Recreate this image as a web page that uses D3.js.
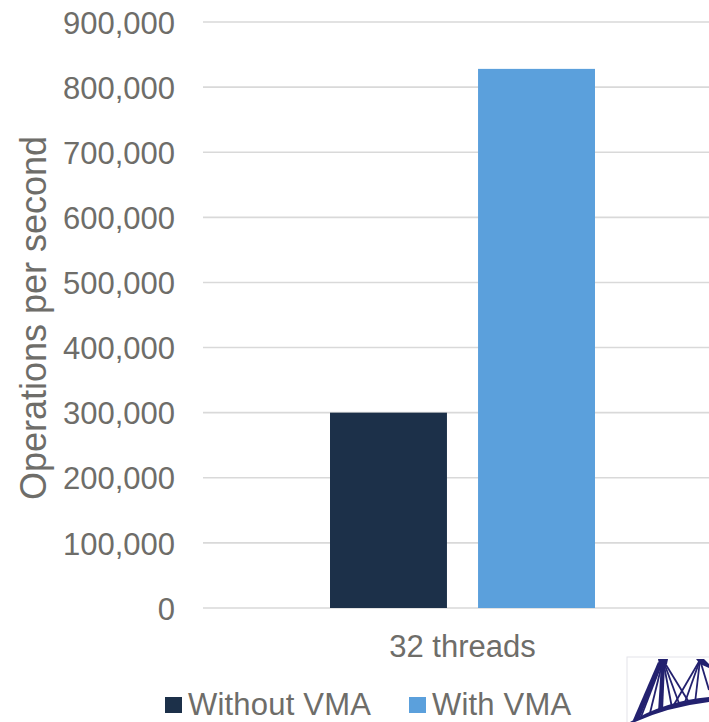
<!DOCTYPE html>
<html>
<head>
<meta charset="utf-8">
<script src="https://cdn.jsdelivr.net/npm/d3@7"></script>
<style>
html,body{margin:0;padding:0;background:#fff;overflow:hidden;}
svg{display:block;}
text{font-family:"Liberation Sans",Arial,sans-serif;fill:#6e6d69;}
</style>
</head>
<body>
<svg id="chart" width="709" height="722"></svg>
<script>
const categories = ["32 threads"];
const series = ["Without VMA", "With VMA"];
const withoutVMA = [300000];
const withVMA = [828000];
const colors = ["#1c3049", "#5ba0dc"];
const yTicks = [0, 100000, 200000, 300000, 400000, 500000, 600000, 700000, 800000, 900000];
const yTitle = "Operations per second";

const svg = d3.select("#chart");
const W = 709, H = 722;
const plotLeft = 203, plotRight = 722, plotTop = 22, plotBottom = 608;

const y = d3.scaleLinear().domain([0, 900000]).range([plotBottom, plotTop]);
const x0 = d3.scaleBand().domain(categories).range([plotLeft, plotRight]);
const x1 = d3.scaleBand().domain(series).range([127, 392]).paddingInner(0.21);
const color = d3.scaleOrdinal().domain(series).range(colors);
const fmt = d3.format(",");

// gridlines
svg.append("g").selectAll("line").data(yTicks).join("line")
  .attr("x1", plotLeft).attr("x2", W)
  .attr("y1", d => y(d)).attr("y2", d => y(d))
  .attr("stroke", "#d9d9d9").attr("stroke-width", 1.6);

// y axis labels
const yAxis = d3.axisLeft(y).tickValues(yTicks).tickFormat(fmt).tickSize(0).tickPadding(0);
const gy = svg.append("g").attr("transform", `translate(175,0)`).call(yAxis);
gy.select(".domain").remove();
gy.selectAll("text").style("font-size", "31px").attr("fill", "#6e6d69")
  .style("font-family", '"Liberation Sans",Arial,sans-serif').attr("dy", "0.36em");

// bars
const data = categories.map((c, i) => ({cat: c, vals: [
  {s: series[0], v: withoutVMA[i]}, {s: series[1], v: withVMA[i]}]}));
const cg = svg.append("g").selectAll("g").data(data).join("g")
  .attr("transform", d => `translate(${x0(d.cat)},0)`);
cg.selectAll("rect").data(d => d.vals).join("rect")
  .attr("x", d => x1(d.s)).attr("width", x1.bandwidth())
  .attr("y", d => y(d.v)).attr("height", d => y(0) - y(d.v))
  .attr("fill", d => color(d.s));

// x axis label
const xAxis = d3.axisBottom(x0).tickSize(0).tickPadding(0);
const gx = svg.append("g").attr("transform", `translate(0,${plotBottom})`).call(xAxis);
gx.select(".domain").remove();
gx.selectAll("text").style("font-size", "31px").attr("fill", "#6e6d69")
  .style("font-family", '"Liberation Sans",Arial,sans-serif')
  .attr("dy", 0).attr("y", 49);

// y title
svg.append("text").attr("transform", "translate(46,318) rotate(-90)")
  .attr("text-anchor", "middle").style("font-size", "36px").text(yTitle);

// legend
const legX = [165, 409];
const lg = svg.append("g").selectAll("g").data(series).join("g")
  .attr("transform", (d, i) => `translate(${legX[i]},0)`);
lg.append("rect").attr("x", 0).attr("y", 697).attr("width", 17).attr("height", 16)
  .attr("fill", d => color(d));
lg.append("text").attr("x", 23).attr("y", 715).style("font-size", "31px")
  .style("letter-spacing", "0.2px").text(d => d);

// logo (partial Mellanox bridge mark at bottom-right)
const logo = svg.append("g");
logo.append("rect").attr("x", 627).attr("y", 657).attr("width", 100).attr("height", 80)
  .attr("fill", "#fff").attr("stroke", "#e4e4ea").attr("stroke-width", 1);
const navy = "#23216f";
const lines = [
  [663,660, 641,717],[663,660, 650,713],
  [663,660, 672,708],[663,660, 680,706],[663,660, 690,704],
  [700,660, 672,708],[700,660, 684,705],[700,660, 695,703],
  [700,660, 709,690]
];
logo.selectAll("line.c").data(lines).join("line")
  .attr("x1", d => d[0]).attr("y1", d => d[1]).attr("x2", d => d[2]).attr("y2", d => d[3])
  .attr("stroke", navy).attr("stroke-width", 1.8);
logo.append("path").attr("d", "M658,659 L668,659 L667,664 L659,664 Z").attr("fill", navy);
logo.append("path").attr("d", "M658,662 L633,720 L639,720 L662,664 Z").attr("fill", navy);
logo.append("path").attr("d", "M661,663 L658,712 L663,711 L665,663 Z").attr("fill", navy);
logo.append("path").attr("d", "M696,659 L704,659 L709,664 L709,668 L700,664 Z").attr("fill", navy);
logo.append("path").attr("d", "M630,722 Q665,701 709,697 L709,702 Q668,707 635,722 Z").attr("fill", navy);
</script>
</body>
</html>
